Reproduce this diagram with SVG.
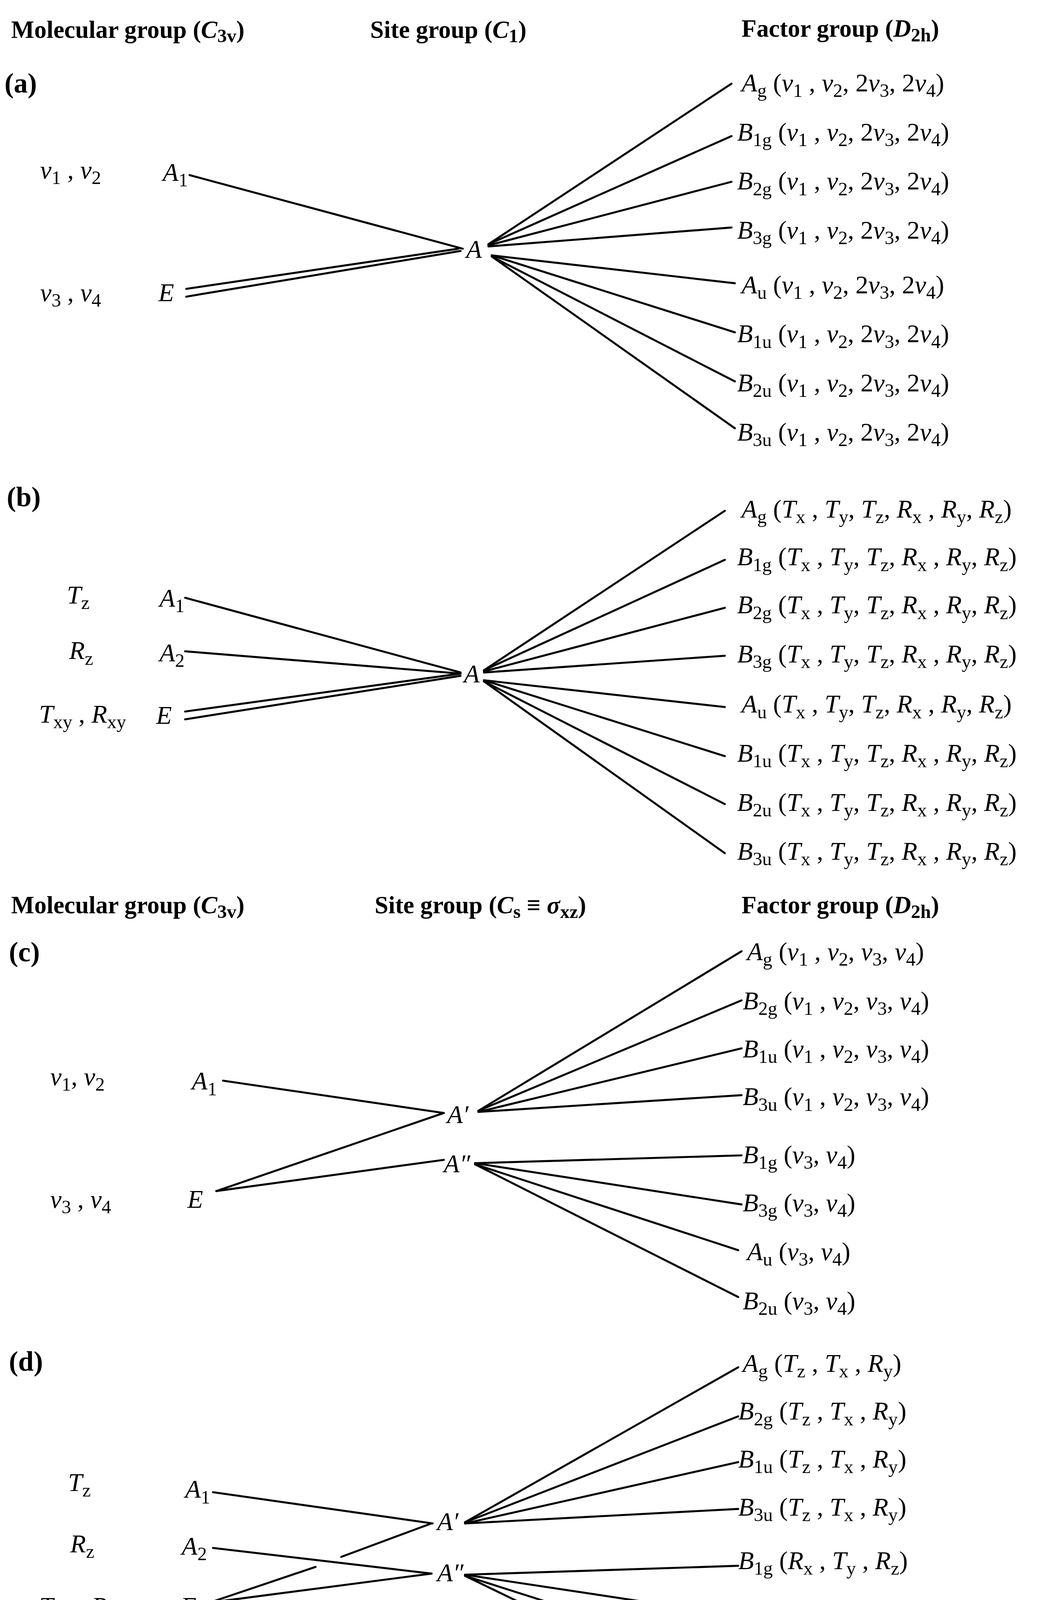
<svg xmlns="http://www.w3.org/2000/svg" width="2655" height="4501" viewBox="0 0 2655 4501">
<style>
text{font-family:"Liberation Serif","Times New Roman",serif;font-size:23px;fill:#000}
.h{font-weight:bold;font-size:22px}
.p{font-weight:bold;font-size:25px}
.i{font-style:italic}
.s{font-size:17px}
.c line{stroke:#000;stroke-width:1.8;stroke-linecap:round}
</style>
<rect width="2655" height="4501" fill="#fff"/>
<g transform="scale(2.855)">
<g id="headers">
<text class="h" x="10" y="34">Molecular group (<tspan class="i">C</tspan><tspan class="s" dy="4">3v</tspan><tspan dy="-4">)</tspan></text>
<text class="h" x="332" y="34">Site group (<tspan class="i">C</tspan><tspan class="s" dy="4">1</tspan><tspan dy="-4">)</tspan></text>
<text class="h" x="665" y="33">Factor group (<tspan class="i">D</tspan><tspan class="s" dy="4">2h</tspan><tspan dy="-4">)</tspan></text>
<text class="h" x="10" y="819">Molecular group (<tspan class="i">C</tspan><tspan class="s" dy="4">3v</tspan><tspan dy="-4">)</tspan></text>
<text class="h" x="336" y="819">Site group (<tspan class="i">C</tspan><tspan class="s" dy="4">s</tspan><tspan dy="-4"> ≡ </tspan><tspan class="i">σ</tspan><tspan class="s" dy="4">xz</tspan><tspan dy="-4">)</tspan></text>
<text class="h" x="665" y="819">Factor group (<tspan class="i">D</tspan><tspan class="s" dy="4">2h</tspan><tspan dy="-4">)</tspan></text>
<text class="p" x="4" y="83">(a)</text>
<text class="p" x="6" y="454">(b)</text>
<text class="p" x="8" y="862">(c)</text>
<text class="p" x="8" y="1229">(d)</text>
</g>
<g class="c" id="connectors">
<line x1="170" y1="157" x2="415" y2="223"/>
<line x1="167" y1="259" x2="411" y2="223"/>
<line x1="167" y1="266" x2="413" y2="225"/>
<line x1="438" y1="219" x2="656" y2="75"/>
<line x1="438" y1="219" x2="656" y2="122"/>
<line x1="438" y1="220" x2="656" y2="163"/>
<line x1="438" y1="221" x2="656" y2="204"/>
<line x1="441" y1="229" x2="659" y2="254"/>
<line x1="441" y1="229" x2="659" y2="298"/>
<line x1="441" y1="230" x2="659" y2="342"/>
<line x1="441" y1="230" x2="659" y2="384"/>

<line x1="166" y1="536" x2="413" y2="603"/>
<line x1="166" y1="584" x2="413" y2="604"/>
<line x1="166" y1="638" x2="413" y2="604"/>
<line x1="166" y1="645" x2="413" y2="606"/>
<line x1="434" y1="601" x2="650" y2="458"/>
<line x1="434" y1="601" x2="650" y2="502"/>
<line x1="434" y1="602" x2="650" y2="545"/>
<line x1="434" y1="603" x2="650" y2="588"/>
<line x1="434" y1="610" x2="650" y2="634"/>
<line x1="434" y1="610" x2="650" y2="678"/>
<line x1="434" y1="611" x2="650" y2="721"/>
<line x1="434" y1="611" x2="650" y2="765"/>

<line x1="200" y1="969" x2="398" y2="998"/>
<line x1="194" y1="1068" x2="398" y2="998"/>
<line x1="194" y1="1068" x2="398" y2="1040"/>
<line x1="429" y1="996" x2="665" y2="853"/>
<line x1="429" y1="996" x2="665" y2="897"/>
<line x1="429" y1="997" x2="665" y2="940"/>
<line x1="429" y1="997" x2="665" y2="982"/>
<line x1="426" y1="1043" x2="665" y2="1036"/>
<line x1="426" y1="1043" x2="665" y2="1080"/>
<line x1="426" y1="1044" x2="662" y2="1121"/>
<line x1="426" y1="1044" x2="662" y2="1163"/>

<line x1="191" y1="1338" x2="388" y2="1366"/>
<line x1="191" y1="1388" x2="387" y2="1411"/>
<line x1="188" y1="1437" x2="387" y2="1411"/>
<line x1="188" y1="1437" x2="283" y2="1405"/>
<line x1="306" y1="1396" x2="387" y2="1366"/>
<line x1="417" y1="1365" x2="662" y2="1226"/>
<line x1="417" y1="1365" x2="662" y2="1270"/>
<line x1="417" y1="1366" x2="662" y2="1311"/>
<line x1="417" y1="1366" x2="662" y2="1353"/>
<line x1="417" y1="1412" x2="662" y2="1404"/>
<line x1="417" y1="1412" x2="662" y2="1449"/>
<line x1="417" y1="1413" x2="662" y2="1491"/>
<line x1="417" y1="1413" x2="662" y2="1532"/>
</g>

<g id="a-left">
<text x="36" y="160"><tspan class="i">ν</tspan><tspan class="s" dy="5">1</tspan><tspan dy="-5"> , </tspan><tspan class="i">ν</tspan><tspan class="s" dy="5">2</tspan></text>
<text x="146" y="162"><tspan class="i">A</tspan><tspan class="s" dy="5">1</tspan></text>
<text x="36" y="270"><tspan class="i">ν</tspan><tspan class="s" dy="5">3</tspan><tspan dy="-5"> , </tspan><tspan class="i">ν</tspan><tspan class="s" dy="5">4</tspan></text>
<text x="142" y="270" class="i">E</text>
<text x="418" y="231" class="i">A</text>
</g>
<g id="a-right">
<text x="665" y="82"><tspan class="i">A</tspan><tspan class="s" dy="5">g</tspan><tspan dy="-5"> (</tspan><tspan class="i">ν</tspan><tspan class="s" dy="5">1</tspan><tspan dy="-5"> , </tspan><tspan class="i">ν</tspan><tspan class="s" dy="5">2</tspan><tspan dy="-5">, 2</tspan><tspan class="i">ν</tspan><tspan class="s" dy="5">3</tspan><tspan dy="-5">, 2</tspan><tspan class="i">ν</tspan><tspan class="s" dy="5">4</tspan><tspan dy="-5">)</tspan></text>
<text x="661" y="126"><tspan class="i">B</tspan><tspan class="s" dy="5">1g</tspan><tspan dy="-5"> (</tspan><tspan class="i">ν</tspan><tspan class="s" dy="5">1</tspan><tspan dy="-5"> , </tspan><tspan class="i">ν</tspan><tspan class="s" dy="5">2</tspan><tspan dy="-5">, 2</tspan><tspan class="i">ν</tspan><tspan class="s" dy="5">3</tspan><tspan dy="-5">, 2</tspan><tspan class="i">ν</tspan><tspan class="s" dy="5">4</tspan><tspan dy="-5">)</tspan></text>
<text x="661" y="170"><tspan class="i">B</tspan><tspan class="s" dy="5">2g</tspan><tspan dy="-5"> (</tspan><tspan class="i">ν</tspan><tspan class="s" dy="5">1</tspan><tspan dy="-5"> , </tspan><tspan class="i">ν</tspan><tspan class="s" dy="5">2</tspan><tspan dy="-5">, 2</tspan><tspan class="i">ν</tspan><tspan class="s" dy="5">3</tspan><tspan dy="-5">, 2</tspan><tspan class="i">ν</tspan><tspan class="s" dy="5">4</tspan><tspan dy="-5">)</tspan></text>
<text x="661" y="214"><tspan class="i">B</tspan><tspan class="s" dy="5">3g</tspan><tspan dy="-5"> (</tspan><tspan class="i">ν</tspan><tspan class="s" dy="5">1</tspan><tspan dy="-5"> , </tspan><tspan class="i">ν</tspan><tspan class="s" dy="5">2</tspan><tspan dy="-5">, 2</tspan><tspan class="i">ν</tspan><tspan class="s" dy="5">3</tspan><tspan dy="-5">, 2</tspan><tspan class="i">ν</tspan><tspan class="s" dy="5">4</tspan><tspan dy="-5">)</tspan></text>
<text x="665" y="263"><tspan class="i">A</tspan><tspan class="s" dy="5">u</tspan><tspan dy="-5"> (</tspan><tspan class="i">ν</tspan><tspan class="s" dy="5">1</tspan><tspan dy="-5"> , </tspan><tspan class="i">ν</tspan><tspan class="s" dy="5">2</tspan><tspan dy="-5">, 2</tspan><tspan class="i">ν</tspan><tspan class="s" dy="5">3</tspan><tspan dy="-5">, 2</tspan><tspan class="i">ν</tspan><tspan class="s" dy="5">4</tspan><tspan dy="-5">)</tspan></text>
<text x="661" y="307"><tspan class="i">B</tspan><tspan class="s" dy="5">1u</tspan><tspan dy="-5"> (</tspan><tspan class="i">ν</tspan><tspan class="s" dy="5">1</tspan><tspan dy="-5"> , </tspan><tspan class="i">ν</tspan><tspan class="s" dy="5">2</tspan><tspan dy="-5">, 2</tspan><tspan class="i">ν</tspan><tspan class="s" dy="5">3</tspan><tspan dy="-5">, 2</tspan><tspan class="i">ν</tspan><tspan class="s" dy="5">4</tspan><tspan dy="-5">)</tspan></text>
<text x="661" y="351"><tspan class="i">B</tspan><tspan class="s" dy="5">2u</tspan><tspan dy="-5"> (</tspan><tspan class="i">ν</tspan><tspan class="s" dy="5">1</tspan><tspan dy="-5"> , </tspan><tspan class="i">ν</tspan><tspan class="s" dy="5">2</tspan><tspan dy="-5">, 2</tspan><tspan class="i">ν</tspan><tspan class="s" dy="5">3</tspan><tspan dy="-5">, 2</tspan><tspan class="i">ν</tspan><tspan class="s" dy="5">4</tspan><tspan dy="-5">)</tspan></text>
<text x="661" y="395"><tspan class="i">B</tspan><tspan class="s" dy="5">3u</tspan><tspan dy="-5"> (</tspan><tspan class="i">ν</tspan><tspan class="s" dy="5">1</tspan><tspan dy="-5"> , </tspan><tspan class="i">ν</tspan><tspan class="s" dy="5">2</tspan><tspan dy="-5">, 2</tspan><tspan class="i">ν</tspan><tspan class="s" dy="5">3</tspan><tspan dy="-5">, 2</tspan><tspan class="i">ν</tspan><tspan class="s" dy="5">4</tspan><tspan dy="-5">)</tspan></text>
</g>

<g id="b-left">
<text x="60" y="541"><tspan class="i">T</tspan><tspan class="s" dy="5">z</tspan></text>
<text x="143" y="544"><tspan class="i">A</tspan><tspan class="s" dy="5">1</tspan></text>
<text x="62" y="591"><tspan class="i">R</tspan><tspan class="s" dy="5">z</tspan></text>
<text x="143" y="593"><tspan class="i">A</tspan><tspan class="s" dy="5">2</tspan></text>
<text x="35" y="648"><tspan class="i">T</tspan><tspan class="s" dy="5">xy</tspan><tspan dy="-5"> , </tspan><tspan class="i">R</tspan><tspan class="s" dy="5">xy</tspan></text>
<text x="140" y="649" class="i">E</text>
<text x="416" y="612" class="i">A</text>
</g>
<g id="b-right">
<text x="665" y="464"><tspan class="i">A</tspan><tspan class="s" dy="5">g</tspan><tspan dy="-5"> (</tspan><tspan class="i">T</tspan><tspan class="s" dy="5">x</tspan><tspan dy="-5"> , </tspan><tspan class="i">T</tspan><tspan class="s" dy="5">y</tspan><tspan dy="-5">, </tspan><tspan class="i">T</tspan><tspan class="s" dy="5">z</tspan><tspan dy="-5">, </tspan><tspan class="i">R</tspan><tspan class="s" dy="5">x</tspan><tspan dy="-5"> , </tspan><tspan class="i">R</tspan><tspan class="s" dy="5">y</tspan><tspan dy="-5">, </tspan><tspan class="i">R</tspan><tspan class="s" dy="5">z</tspan><tspan dy="-5">)</tspan></text>
<text x="661" y="507"><tspan class="i">B</tspan><tspan class="s" dy="5">1g</tspan><tspan dy="-5"> (</tspan><tspan class="i">T</tspan><tspan class="s" dy="5">x</tspan><tspan dy="-5"> , </tspan><tspan class="i">T</tspan><tspan class="s" dy="5">y</tspan><tspan dy="-5">, </tspan><tspan class="i">T</tspan><tspan class="s" dy="5">z</tspan><tspan dy="-5">, </tspan><tspan class="i">R</tspan><tspan class="s" dy="5">x</tspan><tspan dy="-5"> , </tspan><tspan class="i">R</tspan><tspan class="s" dy="5">y</tspan><tspan dy="-5">, </tspan><tspan class="i">R</tspan><tspan class="s" dy="5">z</tspan><tspan dy="-5">)</tspan></text>
<text x="661" y="550"><tspan class="i">B</tspan><tspan class="s" dy="5">2g</tspan><tspan dy="-5"> (</tspan><tspan class="i">T</tspan><tspan class="s" dy="5">x</tspan><tspan dy="-5"> , </tspan><tspan class="i">T</tspan><tspan class="s" dy="5">y</tspan><tspan dy="-5">, </tspan><tspan class="i">T</tspan><tspan class="s" dy="5">z</tspan><tspan dy="-5">, </tspan><tspan class="i">R</tspan><tspan class="s" dy="5">x</tspan><tspan dy="-5"> , </tspan><tspan class="i">R</tspan><tspan class="s" dy="5">y</tspan><tspan dy="-5">, </tspan><tspan class="i">R</tspan><tspan class="s" dy="5">z</tspan><tspan dy="-5">)</tspan></text>
<text x="661" y="594"><tspan class="i">B</tspan><tspan class="s" dy="5">3g</tspan><tspan dy="-5"> (</tspan><tspan class="i">T</tspan><tspan class="s" dy="5">x</tspan><tspan dy="-5"> , </tspan><tspan class="i">T</tspan><tspan class="s" dy="5">y</tspan><tspan dy="-5">, </tspan><tspan class="i">T</tspan><tspan class="s" dy="5">z</tspan><tspan dy="-5">, </tspan><tspan class="i">R</tspan><tspan class="s" dy="5">x</tspan><tspan dy="-5"> , </tspan><tspan class="i">R</tspan><tspan class="s" dy="5">y</tspan><tspan dy="-5">, </tspan><tspan class="i">R</tspan><tspan class="s" dy="5">z</tspan><tspan dy="-5">)</tspan></text>
<text x="665" y="639"><tspan class="i">A</tspan><tspan class="s" dy="5">u</tspan><tspan dy="-5"> (</tspan><tspan class="i">T</tspan><tspan class="s" dy="5">x</tspan><tspan dy="-5"> , </tspan><tspan class="i">T</tspan><tspan class="s" dy="5">y</tspan><tspan dy="-5">, </tspan><tspan class="i">T</tspan><tspan class="s" dy="5">z</tspan><tspan dy="-5">, </tspan><tspan class="i">R</tspan><tspan class="s" dy="5">x</tspan><tspan dy="-5"> , </tspan><tspan class="i">R</tspan><tspan class="s" dy="5">y</tspan><tspan dy="-5">, </tspan><tspan class="i">R</tspan><tspan class="s" dy="5">z</tspan><tspan dy="-5">)</tspan></text>
<text x="661" y="683"><tspan class="i">B</tspan><tspan class="s" dy="5">1u</tspan><tspan dy="-5"> (</tspan><tspan class="i">T</tspan><tspan class="s" dy="5">x</tspan><tspan dy="-5"> , </tspan><tspan class="i">T</tspan><tspan class="s" dy="5">y</tspan><tspan dy="-5">, </tspan><tspan class="i">T</tspan><tspan class="s" dy="5">z</tspan><tspan dy="-5">, </tspan><tspan class="i">R</tspan><tspan class="s" dy="5">x</tspan><tspan dy="-5"> , </tspan><tspan class="i">R</tspan><tspan class="s" dy="5">y</tspan><tspan dy="-5">, </tspan><tspan class="i">R</tspan><tspan class="s" dy="5">z</tspan><tspan dy="-5">)</tspan></text>
<text x="661" y="727"><tspan class="i">B</tspan><tspan class="s" dy="5">2u</tspan><tspan dy="-5"> (</tspan><tspan class="i">T</tspan><tspan class="s" dy="5">x</tspan><tspan dy="-5"> , </tspan><tspan class="i">T</tspan><tspan class="s" dy="5">y</tspan><tspan dy="-5">, </tspan><tspan class="i">T</tspan><tspan class="s" dy="5">z</tspan><tspan dy="-5">, </tspan><tspan class="i">R</tspan><tspan class="s" dy="5">x</tspan><tspan dy="-5"> , </tspan><tspan class="i">R</tspan><tspan class="s" dy="5">y</tspan><tspan dy="-5">, </tspan><tspan class="i">R</tspan><tspan class="s" dy="5">z</tspan><tspan dy="-5">)</tspan></text>
<text x="661" y="771"><tspan class="i">B</tspan><tspan class="s" dy="5">3u</tspan><tspan dy="-5"> (</tspan><tspan class="i">T</tspan><tspan class="s" dy="5">x</tspan><tspan dy="-5"> , </tspan><tspan class="i">T</tspan><tspan class="s" dy="5">y</tspan><tspan dy="-5">, </tspan><tspan class="i">T</tspan><tspan class="s" dy="5">z</tspan><tspan dy="-5">, </tspan><tspan class="i">R</tspan><tspan class="s" dy="5">x</tspan><tspan dy="-5"> , </tspan><tspan class="i">R</tspan><tspan class="s" dy="5">y</tspan><tspan dy="-5">, </tspan><tspan class="i">R</tspan><tspan class="s" dy="5">z</tspan><tspan dy="-5">)</tspan></text>
</g>

<g id="c-left">
<text x="45" y="973"><tspan class="i">ν</tspan><tspan class="s" dy="5">1</tspan><tspan dy="-5">, </tspan><tspan class="i">ν</tspan><tspan class="s" dy="5">2</tspan></text>
<text x="172" y="977"><tspan class="i">A</tspan><tspan class="s" dy="5">1</tspan></text>
<text x="45" y="1083"><tspan class="i">ν</tspan><tspan class="s" dy="5">3</tspan><tspan dy="-5"> , </tspan><tspan class="i">ν</tspan><tspan class="s" dy="5">4</tspan></text>
<text x="168" y="1083" class="i">E</text>
<text x="401" y="1007" class="i">A′</text>
<text x="398" y="1051" class="i">A″</text>
</g>
<g id="c-right">
<text x="670" y="861"><tspan class="i">A</tspan><tspan class="s" dy="5">g</tspan><tspan dy="-5"> (</tspan><tspan class="i">ν</tspan><tspan class="s" dy="5">1</tspan><tspan dy="-5"> , </tspan><tspan class="i">ν</tspan><tspan class="s" dy="5">2</tspan><tspan dy="-5">, </tspan><tspan class="i">ν</tspan><tspan class="s" dy="5">3</tspan><tspan dy="-5">, </tspan><tspan class="i">ν</tspan><tspan class="s" dy="5">4</tspan><tspan dy="-5">)</tspan></text>
<text x="666" y="905"><tspan class="i">B</tspan><tspan class="s" dy="5">2g</tspan><tspan dy="-5"> (</tspan><tspan class="i">ν</tspan><tspan class="s" dy="5">1</tspan><tspan dy="-5"> , </tspan><tspan class="i">ν</tspan><tspan class="s" dy="5">2</tspan><tspan dy="-5">, </tspan><tspan class="i">ν</tspan><tspan class="s" dy="5">3</tspan><tspan dy="-5">, </tspan><tspan class="i">ν</tspan><tspan class="s" dy="5">4</tspan><tspan dy="-5">)</tspan></text>
<text x="666" y="948"><tspan class="i">B</tspan><tspan class="s" dy="5">1u</tspan><tspan dy="-5"> (</tspan><tspan class="i">ν</tspan><tspan class="s" dy="5">1</tspan><tspan dy="-5"> , </tspan><tspan class="i">ν</tspan><tspan class="s" dy="5">2</tspan><tspan dy="-5">, </tspan><tspan class="i">ν</tspan><tspan class="s" dy="5">3</tspan><tspan dy="-5">, </tspan><tspan class="i">ν</tspan><tspan class="s" dy="5">4</tspan><tspan dy="-5">)</tspan></text>
<text x="666" y="991"><tspan class="i">B</tspan><tspan class="s" dy="5">3u</tspan><tspan dy="-5"> (</tspan><tspan class="i">ν</tspan><tspan class="s" dy="5">1</tspan><tspan dy="-5"> , </tspan><tspan class="i">ν</tspan><tspan class="s" dy="5">2</tspan><tspan dy="-5">, </tspan><tspan class="i">ν</tspan><tspan class="s" dy="5">3</tspan><tspan dy="-5">, </tspan><tspan class="i">ν</tspan><tspan class="s" dy="5">4</tspan><tspan dy="-5">)</tspan></text>
<text x="666" y="1043"><tspan class="i">B</tspan><tspan class="s" dy="5">1g</tspan><tspan dy="-5"> (</tspan><tspan class="i">ν</tspan><tspan class="s" dy="5">3</tspan><tspan dy="-5">, </tspan><tspan class="i">ν</tspan><tspan class="s" dy="5">4</tspan><tspan dy="-5">)</tspan></text>
<text x="666" y="1086"><tspan class="i">B</tspan><tspan class="s" dy="5">3g</tspan><tspan dy="-5"> (</tspan><tspan class="i">ν</tspan><tspan class="s" dy="5">3</tspan><tspan dy="-5">, </tspan><tspan class="i">ν</tspan><tspan class="s" dy="5">4</tspan><tspan dy="-5">)</tspan></text>
<text x="670" y="1130"><tspan class="i">A</tspan><tspan class="s" dy="5">u</tspan><tspan dy="-5"> (</tspan><tspan class="i">ν</tspan><tspan class="s" dy="5">3</tspan><tspan dy="-5">, </tspan><tspan class="i">ν</tspan><tspan class="s" dy="5">4</tspan><tspan dy="-5">)</tspan></text>
<text x="666" y="1174"><tspan class="i">B</tspan><tspan class="s" dy="5">2u</tspan><tspan dy="-5"> (</tspan><tspan class="i">ν</tspan><tspan class="s" dy="5">3</tspan><tspan dy="-5">, </tspan><tspan class="i">ν</tspan><tspan class="s" dy="5">4</tspan><tspan dy="-5">)</tspan></text>
</g>

<g id="d-left">
<text x="61" y="1337"><tspan class="i">T</tspan><tspan class="s" dy="5">z</tspan></text>
<text x="166" y="1343"><tspan class="i">A</tspan><tspan class="s" dy="5">1</tspan></text>
<text x="63" y="1392"><tspan class="i">R</tspan><tspan class="s" dy="5">z</tspan></text>
<text x="163" y="1394"><tspan class="i">A</tspan><tspan class="s" dy="5">2</tspan></text>
<text x="35" y="1448"><tspan class="i">T</tspan><tspan class="s" dy="5">xy</tspan><tspan dy="-5"> , </tspan><tspan class="i">R</tspan><tspan class="s" dy="5">xy</tspan></text>
<text x="162" y="1448" class="i">E</text>
<text x="392" y="1372" class="i">A′</text>
<text x="392" y="1418" class="i">A″</text>
</g>
<g id="d-right">
<text x="666" y="1230"><tspan class="i">A</tspan><tspan class="s" dy="5">g</tspan><tspan dy="-5"> (</tspan><tspan class="i">T</tspan><tspan class="s" dy="5">z</tspan><tspan dy="-5"> , </tspan><tspan class="i">T</tspan><tspan class="s" dy="5">x</tspan><tspan dy="-5"> , </tspan><tspan class="i">R</tspan><tspan class="s" dy="5">y</tspan><tspan dy="-5">)</tspan></text>
<text x="662" y="1273"><tspan class="i">B</tspan><tspan class="s" dy="5">2g</tspan><tspan dy="-5"> (</tspan><tspan class="i">T</tspan><tspan class="s" dy="5">z</tspan><tspan dy="-5"> , </tspan><tspan class="i">T</tspan><tspan class="s" dy="5">x</tspan><tspan dy="-5"> , </tspan><tspan class="i">R</tspan><tspan class="s" dy="5">y</tspan><tspan dy="-5">)</tspan></text>
<text x="662" y="1316"><tspan class="i">B</tspan><tspan class="s" dy="5">1u</tspan><tspan dy="-5"> (</tspan><tspan class="i">T</tspan><tspan class="s" dy="5">z</tspan><tspan dy="-5"> , </tspan><tspan class="i">T</tspan><tspan class="s" dy="5">x</tspan><tspan dy="-5"> , </tspan><tspan class="i">R</tspan><tspan class="s" dy="5">y</tspan><tspan dy="-5">)</tspan></text>
<text x="662" y="1359"><tspan class="i">B</tspan><tspan class="s" dy="5">3u</tspan><tspan dy="-5"> (</tspan><tspan class="i">T</tspan><tspan class="s" dy="5">z</tspan><tspan dy="-5"> , </tspan><tspan class="i">T</tspan><tspan class="s" dy="5">x</tspan><tspan dy="-5"> , </tspan><tspan class="i">R</tspan><tspan class="s" dy="5">y</tspan><tspan dy="-5">)</tspan></text>
<text x="662" y="1407"><tspan class="i">B</tspan><tspan class="s" dy="5">1g</tspan><tspan dy="-5"> (</tspan><tspan class="i">R</tspan><tspan class="s" dy="5">x</tspan><tspan dy="-5"> , </tspan><tspan class="i">T</tspan><tspan class="s" dy="5">y</tspan><tspan dy="-5"> , </tspan><tspan class="i">R</tspan><tspan class="s" dy="5">z</tspan><tspan dy="-5">)</tspan></text>
<text x="662" y="1452"><tspan class="i">B</tspan><tspan class="s" dy="5">3g</tspan><tspan dy="-5"> (</tspan><tspan class="i">R</tspan><tspan class="s" dy="5">x</tspan><tspan dy="-5"> , </tspan><tspan class="i">T</tspan><tspan class="s" dy="5">y</tspan><tspan dy="-5"> , </tspan><tspan class="i">R</tspan><tspan class="s" dy="5">z</tspan><tspan dy="-5">)</tspan></text>
<text x="666" y="1495"><tspan class="i">A</tspan><tspan class="s" dy="5">u</tspan><tspan dy="-5"> (</tspan><tspan class="i">R</tspan><tspan class="s" dy="5">x</tspan><tspan dy="-5"> , </tspan><tspan class="i">T</tspan><tspan class="s" dy="5">y</tspan><tspan dy="-5"> , </tspan><tspan class="i">R</tspan><tspan class="s" dy="5">z</tspan><tspan dy="-5">)</tspan></text>
<text x="662" y="1538"><tspan class="i">B</tspan><tspan class="s" dy="5">2u</tspan><tspan dy="-5"> (</tspan><tspan class="i">R</tspan><tspan class="s" dy="5">x</tspan><tspan dy="-5"> , </tspan><tspan class="i">T</tspan><tspan class="s" dy="5">y</tspan><tspan dy="-5"> , </tspan><tspan class="i">R</tspan><tspan class="s" dy="5">z</tspan><tspan dy="-5">)</tspan></text>
</g>
</g>
</svg>
